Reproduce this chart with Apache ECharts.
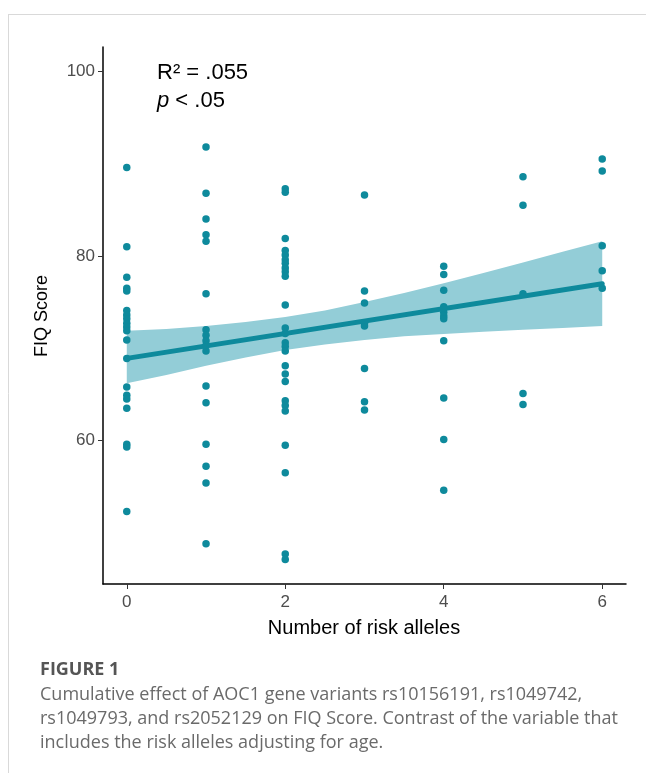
<!DOCTYPE html>
<html>
<head>
<meta charset="utf-8">
<script src="https://cdn.jsdelivr.net/npm/echarts@6/dist/echarts.min.js"></script>
<style>
html,body{margin:0;padding:0;background:#fff;}
#chart{width:646px;height:773px;}
</style>
</head>
<body>
<div id="chart"></div>
<script>
// ---- data ----
const xTicks = [0, 2, 4, 6];
const yTicks = [60, 80, 100];
const fiq0 = [89.6, 81.0, 77.7, 76.5, 76.2, 74.1, 73.6, 73.2, 72.7, 72.3, 71.9, 70.9, 68.9, 65.8, 64.9, 64.5, 63.5, 59.6, 59.3, 52.3];
const fiq1 = [91.8, 86.8, 84.0, 82.3, 81.6, 75.9, 72.0, 71.4, 70.8, 70.3, 69.7, 65.9, 64.1, 59.6, 57.2, 55.4, 48.8];
const fiq2 = [87.3, 86.9, 81.9, 80.6, 80.1, 79.6, 79.2, 78.7, 78.3, 77.8, 74.7, 72.2, 71.6, 70.6, 70.2, 69.7, 68.1, 67.2, 66.4, 64.3, 63.8, 63.2, 59.5, 56.5, 47.7, 47.1];
const fiq3 = [86.6, 76.2, 74.9, 72.7, 72.4, 67.8, 64.2, 63.3];
const fiq4 = [78.9, 78.0, 76.3, 74.5, 73.9, 73.5, 73.2, 70.8, 64.6, 60.1, 54.6];
const fiq5 = [88.6, 85.5, 75.9, 65.1, 63.9];
const fiq6 = [90.5, 89.2, 81.1, 78.4, 76.5];
const fitX = [0, 6];
const fitY = [68.9, 77.0];
const bandX = [0, 0.5, 1, 1.5, 2, 2.5, 3, 3.5, 4, 4.5, 5, 5.5, 6];
const bandLower = [66.2, 67.1, 68.1, 69.0, 69.8, 70.4, 70.9, 71.3, 71.55, 71.8, 72.0, 72.2, 72.4];
const bandUpper = [71.9, 72.1, 72.4, 72.85, 73.4, 74.1, 75.0, 76.0, 77.05, 78.15, 79.3, 80.45, 81.6];
const captionTitle = 'FIGURE 1';
const captionLines = [
  'Cumulative effect of AOC1 gene variants rs10156191, rs1049742,',
  'rs1049793, and rs2052129 on FIQ Score. Contrast of the variable that',
  'includes the risk alleles adjusting for age.'
];

// ---- build ----
const groups = [fiq0, fiq1, fiq2, fiq3, fiq4, fiq5, fiq6];
const points = [];
groups.forEach((arr, k) => arr.forEach(v => points.push([k, v])));

const teal = '#0e8a9c';
const band = '#93cdd7';
const font = '"Liberation Sans", Arial, sans-serif';
const capFont = '"Open Sans", sans-serif';

const chart = echarts.init(document.getElementById('chart'), null, {renderer: 'canvas'});
chart.setOption({
  animation: false,
  backgroundColor: '#fff',
  grid: {left: 103, right: 20, top: 47, bottom: 189, containLabel: false},
  xAxis: {
    type: 'value', min: -0.3, max: 6.3,
    axisLine: {show: true, onZero: false, lineStyle: {color: '#000', width: 1.5}},
    axisTick: {show: true, length: 5, lineStyle: {color: '#333', width: 1}, customValues: xTicks},
    axisLabel: {show: true, customValues: xTicks, color: '#4d4d4d', fontSize: 17, fontFamily: font, margin: 10},
    splitLine: {show: false}
  },
  yAxis: {
    type: 'value', min: 44.45, max: 102.65,
    axisLine: {show: true, onZero: false, lineStyle: {color: '#000', width: 1.5}},
    axisTick: {show: true, length: 5, lineStyle: {color: '#333', width: 1}, customValues: yTicks},
    axisLabel: {show: true, customValues: yTicks, color: '#4d4d4d', fontSize: 17, fontFamily: font, margin: 8},
    splitLine: {show: false}
  },
  series: [
    {type: 'custom', data: [0], silent: true, z: 1,
     renderItem: function (params, api) {
       const pts = [];
       bandX.forEach((x, i) => pts.push(api.coord([x, bandUpper[i]])));
       for (let i = bandX.length - 1; i >= 0; i--) pts.push(api.coord([bandX[i], bandLower[i]]));
       return {type: 'polygon', shape: {points: pts}, style: {fill: band}};
     }},
    {type: 'scatter', data: points, symbolSize: 7.5, itemStyle: {color: teal, opacity: 1}, z: 2},
    {type: 'line', data: fitX.map((x, i) => [x, fitY[i]]), symbol: 'none',
     lineStyle: {color: teal, width: 5, cap: 'round'}, z: 3}
  ],
  graphic: [
    {type: 'line', shape: {x1: 8, y1: 14.5, x2: 646, y2: 14.5}, style: {stroke: '#d9d9d9', lineWidth: 1}},
    {type: 'line', shape: {x1: 8.5, y1: 14, x2: 8.5, y2: 773}, style: {stroke: '#d9d9d9', lineWidth: 1}},
    {type: 'text', x: 157, y: 73, style: {text: 'R² = .055', font: '22px ' + font, fill: '#000', verticalAlign: 'middle'}},
    {type: 'text', x: 157, y: 101, style: {
      text: '{i|p} < .05',
      font: '22px ' + font, fill: '#000', verticalAlign: 'middle',
      rich: {i: {fontStyle: 'italic', fontSize: 22, fontFamily: font, fill: '#000'}}
    }},
    {type: 'text', x: 364, y: 628, style: {text: 'Number of risk alleles', font: '20px ' + font, fill: '#000', align: 'center', verticalAlign: 'middle'}},
    {type: 'text', x: 42, y: 316, rotation: Math.PI / 2, style: {text: 'FIQ Score', font: '18px ' + font, fill: '#000', align: 'center', verticalAlign: 'middle'}},
    {type: 'text', x: 40, y: 670, style: {text: captionTitle, font: 'bold 18px ' + capFont, fill: '#555', verticalAlign: 'middle'}},
    {type: 'text', x: 40, y: 695, style: {text: captionLines[0], font: '18px ' + capFont, fill: '#6a6a6a', verticalAlign: 'middle'}},
    {type: 'text', x: 40, y: 719, style: {text: captionLines[1], font: '18px ' + capFont, fill: '#6a6a6a', verticalAlign: 'middle'}},
    {type: 'text', x: 40, y: 743, style: {text: captionLines[2], font: '18px ' + capFont, fill: '#6a6a6a', verticalAlign: 'middle'}}
  ]
});
</script>
</body>
</html>
